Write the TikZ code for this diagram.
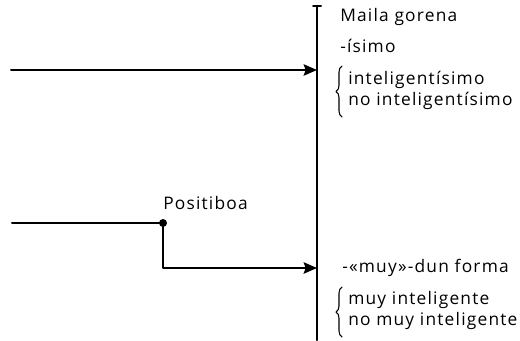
\documentclass[tikz,border=0pt]{standalone}
\usepackage{fontspec}
\setmainfont[LetterSpace=7]{Open Sans}
\usetikzlibrary{decorations.pathreplacing,arrows.meta}
\begin{document}
\begin{tikzpicture}[x=0.75pt,y=-0.75pt,line cap=round,line join=round,
  >={Stealth[length=10pt,width=8.5pt,inset=1.5pt]},
  lbl/.style={anchor=west,inner sep=0pt,font=\fontsize{13}{15}\selectfont},
  ln/.style={line width=1.5pt},
  brc/.style={decorate,decoration={brace,amplitude=4.5pt},line width=0.8pt}]
\useasboundingbox (0,0) rectangle (520,340);
% axis
\coordinate (top) at (317,6);
\coordinate (bot) at (317,340);
\draw [ln] (top) -- (bot);
\draw [ln] ([xshift=-3pt]top) -- ([xshift=3pt]top);
% upper branch
\coordinate (inA) at (11,70);
\coordinate (endA) at (317,70);
\draw [ln,->] (inA) -- (endA);
% lower branch
\coordinate (inB) at (12,223);
\coordinate (pos) at (163,223);
\coordinate (bend) at (163,268);
\coordinate (endB) at (317,268);
\draw [ln] (inB) -- (pos);
\draw [ln,->] (pos) -- (bend) -- (endB);
\fill (pos) circle (3pt);
\node [lbl] (positiboa) at (163,203) {Positiboa};
% labels
\node [lbl] (maila) at (340,17) {Maila gorena};
\node [lbl] (isimo) at (340,46) {-ísimo};
\node [lbl] (intel1) at (348,80) {inteligentísimo};
\node [lbl] (intel2) at (348,101) {no inteligentísimo};
\draw [brc] (342,117) -- (342,66);
\node [lbl] (muy) at (342,268) {-«muy»-dun forma};
\node [lbl] (muy1) at (348,300) {muy inteligente};
\node [lbl] (muy2) at (348,321) {no muy inteligente};
\draw [brc] (342,337) -- (342,287);
\end{tikzpicture}
\end{document}
